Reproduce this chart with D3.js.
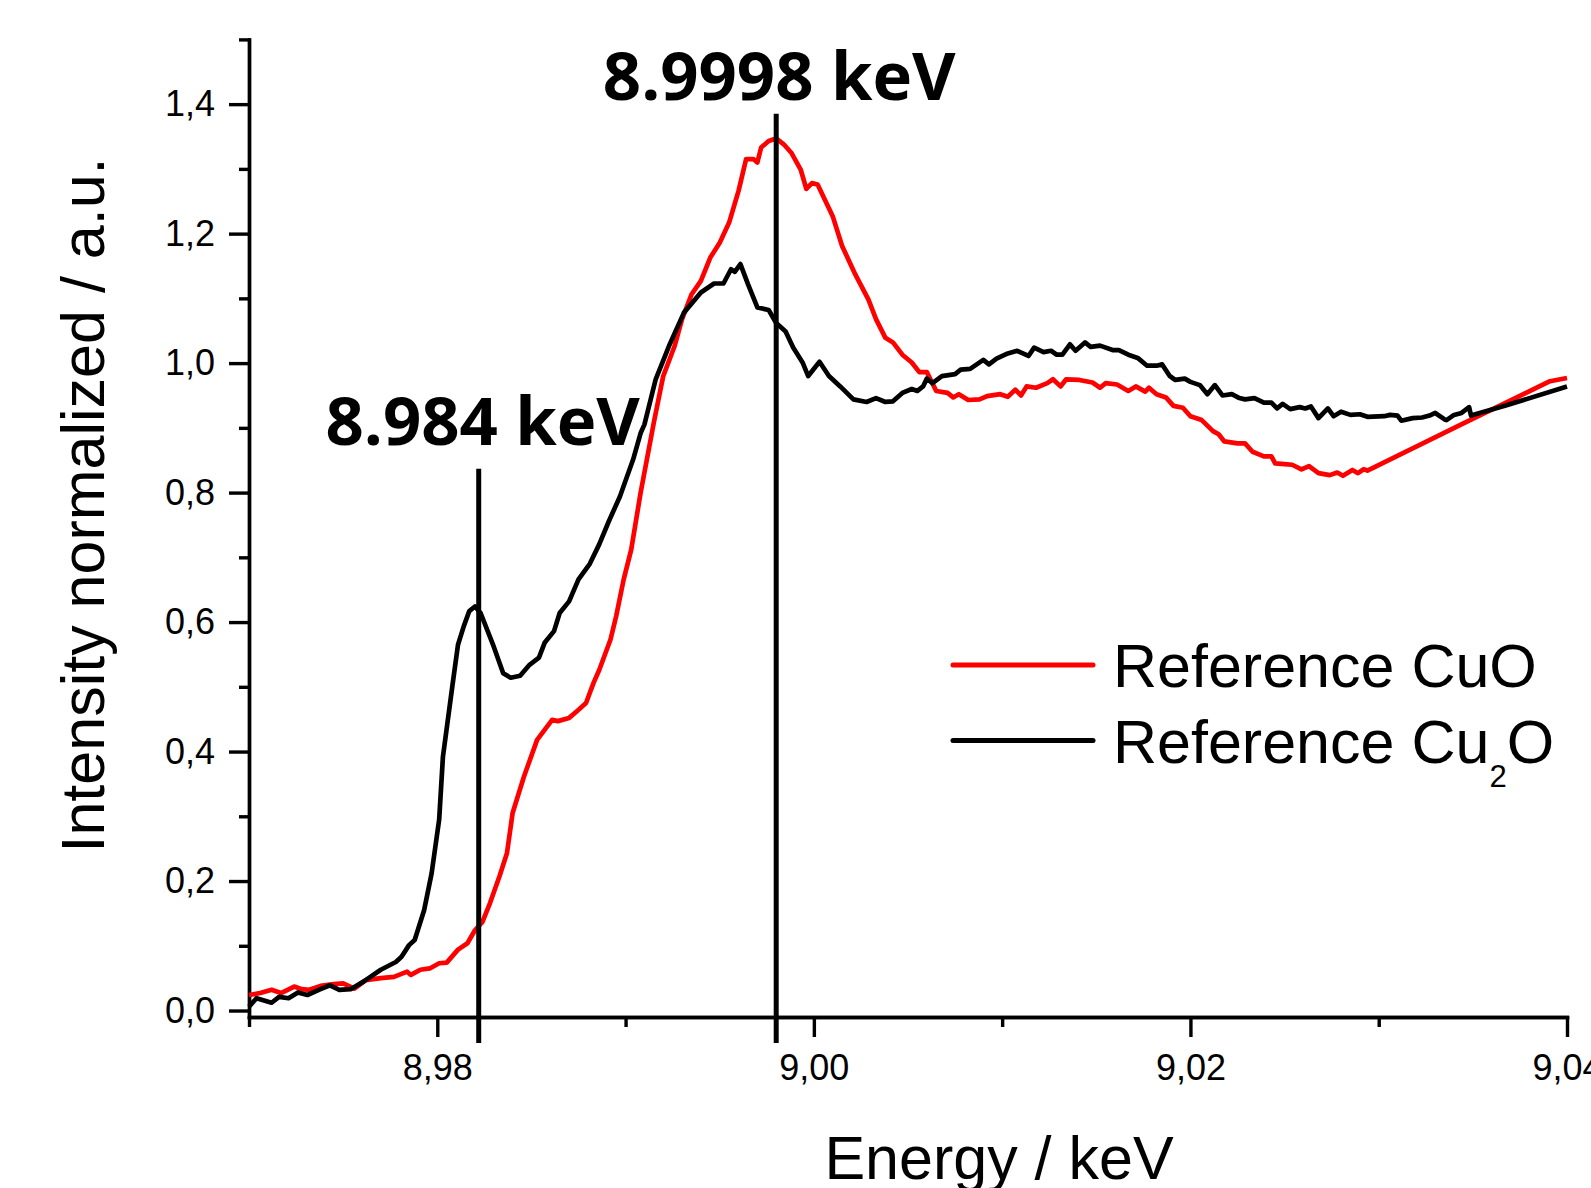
<!DOCTYPE html>
<meta charset="utf-8">
<title>Cu K-edge XANES</title>
<style>
body { margin: 0; background: #fff; }
.axis path, .axis line { stroke: #000; stroke-width: 3.4px; fill: none; }
.axis text { font: 36px "Liberation Sans", Arial, sans-serif; fill: #000; }
.title { font: 61px "Liberation Sans", Arial, sans-serif; fill: #000; }
.legend text { font: 61px "Liberation Sans", Arial, sans-serif; fill: #000; }
.marker-label { font-family: "Open Sans", sans-serif; font-weight: 700; font-size: 67px; fill: #000; }
</style>
<body>
<script src="https://d3js.org/d3.v7.min.js"></script>
<script>

// Reference CuO (red)
var energyCuO = [8.9700,8.9706,8.9712,8.9717,8.9724,8.9728,8.9732,8.9738,8.9745,8.9750,8.9756,8.9762,8.9770,8.9777,8.9784,8.9786,8.9791,8.9796,8.9801,8.9805,8.9811,8.9816,8.9820,8.9824,8.9828,8.9833,8.9837,8.9840,8.9846,8.9853,8.9861,8.9864,8.9870,8.9874,8.9879,8.9883,8.9886,8.9892,8.9895,8.9899,8.9903,8.9908,8.9915,8.9920,8.9926,8.9930,8.9935,8.9940,8.9945,8.9950,8.9955,8.9960,8.9964,8.9968,8.9970,8.9972,8.9976,8.9980,8.9984,8.9988,8.9993,8.9996,8.9999,9.0002,9.0010,9.0015,9.0022,9.0029,9.0033,9.0038,9.0042,9.0047,9.0052,9.0056,9.0060,9.0065,9.0071,9.0074,9.0077,9.0082,9.0088,9.0092,9.0099,9.0103,9.0107,9.0110,9.0113,9.0118,9.0124,9.0127,9.0131,9.0134,9.0141,9.0148,9.0152,9.0155,9.0161,9.0167,9.0171,9.0176,9.0178,9.0182,9.0187,9.0191,9.0196,9.0200,9.0206,9.0212,9.0215,9.0218,9.0225,9.0229,9.0233,9.0239,9.0243,9.0245,9.0250,9.0254,9.0259,9.0263,9.0268,9.0274,9.0278,9.0281,9.0286,9.0289,9.0292,9.0294,9.0345,9.0391,9.0400];
var intensityCuO = [0.024,0.027,0.032,0.027,0.037,0.033,0.032,0.038,0.041,0.042,0.034,0.047,0.050,0.052,0.060,0.055,0.063,0.065,0.073,0.074,0.094,0.104,0.124,0.137,0.166,0.207,0.243,0.305,0.361,0.418,0.449,0.447,0.452,0.462,0.475,0.506,0.526,0.573,0.609,0.666,0.712,0.800,0.908,0.980,1.026,1.068,1.106,1.127,1.163,1.186,1.217,1.266,1.315,1.315,1.310,1.333,1.343,1.347,1.338,1.325,1.299,1.269,1.278,1.276,1.227,1.181,1.137,1.098,1.068,1.039,1.032,1.013,1.001,0.986,0.986,0.957,0.954,0.947,0.952,0.943,0.944,0.949,0.952,0.948,0.959,0.950,0.964,0.962,0.969,0.975,0.964,0.975,0.974,0.970,0.962,0.969,0.967,0.957,0.964,0.956,0.962,0.952,0.947,0.934,0.931,0.918,0.912,0.895,0.890,0.879,0.876,0.876,0.863,0.856,0.856,0.845,0.844,0.843,0.836,0.841,0.830,0.827,0.831,0.826,0.835,0.830,0.836,0.834,0.907,0.972,0.977];

// Reference Cu2O (black)
var energyCu2O = [8.9700,8.9704,8.9712,8.9716,8.9721,8.9726,8.9731,8.9738,8.9743,8.9748,8.9754,8.9761,8.9770,8.9778,8.9781,8.9785,8.9788,8.9793,8.9797,8.9801,8.9803,8.9808,8.9811,8.9814,8.9817,8.9820,8.9823,8.9830,8.9835,8.9839,8.9844,8.9849,8.9854,8.9857,8.9862,8.9865,8.9870,8.9875,8.9881,8.9886,8.9891,8.9897,8.9904,8.9908,8.9910,8.9916,8.9923,8.9931,8.9940,8.9947,8.9952,8.9956,8.9958,8.9961,8.9965,8.9970,8.9976,8.9980,8.9985,8.9989,8.9994,8.9997,9.0003,9.0008,9.0014,9.0021,9.0028,9.0033,9.0038,9.0042,9.0047,9.0052,9.0055,9.0058,9.0060,9.0063,9.0068,9.0075,9.0078,9.0083,9.0090,9.0093,9.0097,9.0103,9.0108,9.0114,9.0117,9.0122,9.0126,9.0129,9.0132,9.0136,9.0139,9.0144,9.0147,9.0152,9.0159,9.0162,9.0167,9.0172,9.0177,9.0182,9.0185,9.0189,9.0192,9.0197,9.0200,9.0205,9.0209,9.0213,9.0217,9.0222,9.0226,9.0229,9.0234,9.0239,9.0243,9.0246,9.0249,9.0253,9.0258,9.0261,9.0264,9.0268,9.0273,9.0276,9.0280,9.0285,9.0290,9.0294,9.0303,9.0306,9.0310,9.0312,9.0318,9.0323,9.0327,9.0330,9.0335,9.0336,9.0340,9.0344,9.0348,9.0349,9.0367,9.0400];
var intensityCu2O = [0.006,0.019,0.012,0.021,0.019,0.028,0.024,0.033,0.039,0.032,0.033,0.045,0.063,0.075,0.083,0.101,0.109,0.155,0.212,0.295,0.392,0.501,0.565,0.593,0.617,0.624,0.614,0.562,0.521,0.514,0.517,0.534,0.545,0.568,0.586,0.614,0.632,0.666,0.690,0.720,0.755,0.794,0.851,0.892,0.905,0.975,1.026,1.078,1.109,1.123,1.123,1.145,1.141,1.153,1.122,1.086,1.082,1.062,1.049,1.024,1.001,0.980,1.002,0.980,0.964,0.944,0.940,0.946,0.940,0.941,0.954,0.960,0.957,0.964,0.976,0.969,0.980,0.983,0.990,0.991,1.005,0.998,1.007,1.015,1.019,1.011,1.024,1.017,1.019,1.013,1.013,1.029,1.019,1.032,1.025,1.027,1.020,1.020,1.013,1.008,0.996,0.996,0.998,0.980,0.974,0.976,0.971,0.966,0.952,0.966,0.950,0.952,0.946,0.944,0.946,0.939,0.939,0.930,0.937,0.929,0.932,0.930,0.933,0.915,0.930,0.918,0.925,0.920,0.921,0.917,0.918,0.920,0.919,0.911,0.915,0.916,0.919,0.923,0.913,0.912,0.920,0.923,0.932,0.919,0.934,0.964];

var seriesNames = ["Reference CuO", "Reference Cu2O"];
var seriesColors = ["#ff0000", "#000000"];

// marked edge positions
var markerEnergy = [8.9822, 8.9980];
var markerTop = [0.837, 1.385];
var markerLabels = ["8.984 keV", "8.9998 keV"];

var xMajorTicks = [8.98, 9.00, 9.02, 9.04];
var xMinorTicks = [8.97, 8.99, 9.01, 9.03];
var yMajorTicks = [0.0, 0.2, 0.4, 0.6, 0.8, 1.0, 1.2, 1.4];
var yMinorTicks = [0.1, 0.3, 0.5, 0.7, 0.9, 1.1, 1.3, 1.5];

var W = 1591, H = 1188;
var plot = {left: 249, right: 1567, top: 39.4, bottom: 1017};

var comma = d3.formatLocale({decimal: ",", thousands: ".", grouping: [3], currency: ["", ""]});

var x = d3.scaleLinear().domain([8.97, 9.04]).range([plot.left, plot.right]);
var y = d3.scaleLinear().domain([-0.01, 1.5]).range([plot.bottom, plot.top]);

var svg = d3.select("body").append("svg")
    .attr("width", W)
    .attr("height", H);

// axes
svg.append("g")
    .attr("class", "axis")
    .attr("transform", "translate(0," + plot.bottom + ")")
    .call(d3.axisBottom(x).tickValues(xMinorTicks).tickSize(10).tickSizeOuter(0).tickFormat(""));
svg.append("g")
    .attr("class", "axis")
    .attr("transform", "translate(0," + plot.bottom + ")")
    .call(d3.axisBottom(x).tickValues(xMajorTicks).tickSize(20).tickSizeOuter(0).tickPadding(17)
      .tickFormat(comma.format(".2f")));

svg.append("g")
    .attr("class", "axis")
    .attr("transform", "translate(" + plot.left + ",0)")
    .call(d3.axisLeft(y).tickValues(yMinorTicks).tickSize(10).tickSizeOuter(0).tickFormat(""));
svg.append("g")
    .attr("class", "axis")
    .attr("transform", "translate(" + plot.left + ",0)")
    .call(d3.axisLeft(y).tickValues(yMajorTicks).tickSize(20).tickSizeOuter(0).tickPadding(14)
      .tickFormat(comma.format(".1f")));

svg.selectAll(".axis .domain").attr("stroke-linecap", "square");

// curves
var line = d3.line()
    .x(function(d) { return x(d[0]); })
    .y(function(d) { return y(d[1]); });

var series = [
  d3.zip(energyCuO, intensityCuO),
  d3.zip(energyCu2O, intensityCu2O)
];

svg.selectAll(".curve")
    .data(series)
  .enter().append("path")
    .attr("class", "curve")
    .attr("d", line)
    .attr("fill", "none")
    .attr("stroke", function(d, i) { return seriesColors[i]; })
    .attr("stroke-width", 4.7)
    .attr("stroke-linejoin", "round");

// edge markers
var labelDx = [4, 3];
var labelDy = [-24, -14];

svg.selectAll(".marker")
    .data(markerEnergy)
  .enter().append("line")
    .attr("class", "marker")
    .attr("x1", function(d) { return x(d); })
    .attr("x2", function(d) { return x(d); })
    .attr("y1", function(d, i) { return y(markerTop[i]); })
    .attr("y2", y(-0.05))
    .attr("stroke", "#000")
    .attr("stroke-width", 5);

svg.selectAll(".marker-label")
    .data(markerLabels)
  .enter().append("text")
    .attr("class", "marker-label")
    .attr("x", function(d, i) { return x(markerEnergy[i]) + labelDx[i]; })
    .attr("y", function(d, i) { return y(markerTop[i]) + labelDy[i]; })
    .attr("text-anchor", "middle")
    .text(function(d) { return d; });

// axis titles
svg.append("text")
    .attr("class", "title")
    .attr("x", 999)
    .attr("y", 1179)
    .attr("text-anchor", "middle")
    .text("Energy / keV");

svg.append("text")
    .attr("class", "title")
    .attr("transform", "translate(104,505) rotate(-90)")
    .attr("text-anchor", "middle")
    .text("Intensity normalized / a.u.");

// legend
var legend = svg.selectAll(".legend")
    .data(seriesNames)
  .enter().append("g")
    .attr("class", "legend")
    .attr("transform", function(d, i) { return "translate(953," + (665 + i * 75.5) + ")"; });

legend.append("line")
    .attr("x1", 0)
    .attr("x2", 140)
    .attr("stroke", function(d, i) { return seriesColors[i]; })
    .attr("stroke-width", 5)
    .attr("stroke-linecap", "round");

legend.append("text")
    .attr("x", 160)
    .attr("y", 22)
    .each(function(d) {
      var t = d3.select(this);
      var m = d.match(/^(.*Cu)(\d)(O)$/);
      if (m) {
        t.append("tspan").text(m[1]);
        t.append("tspan").attr("font-size", "31px").attr("dy", 24).text(m[2]);
        t.append("tspan").attr("dy", -24).text(m[3]);
      } else {
        t.text(d);
      }
    });

</script>
</body>
